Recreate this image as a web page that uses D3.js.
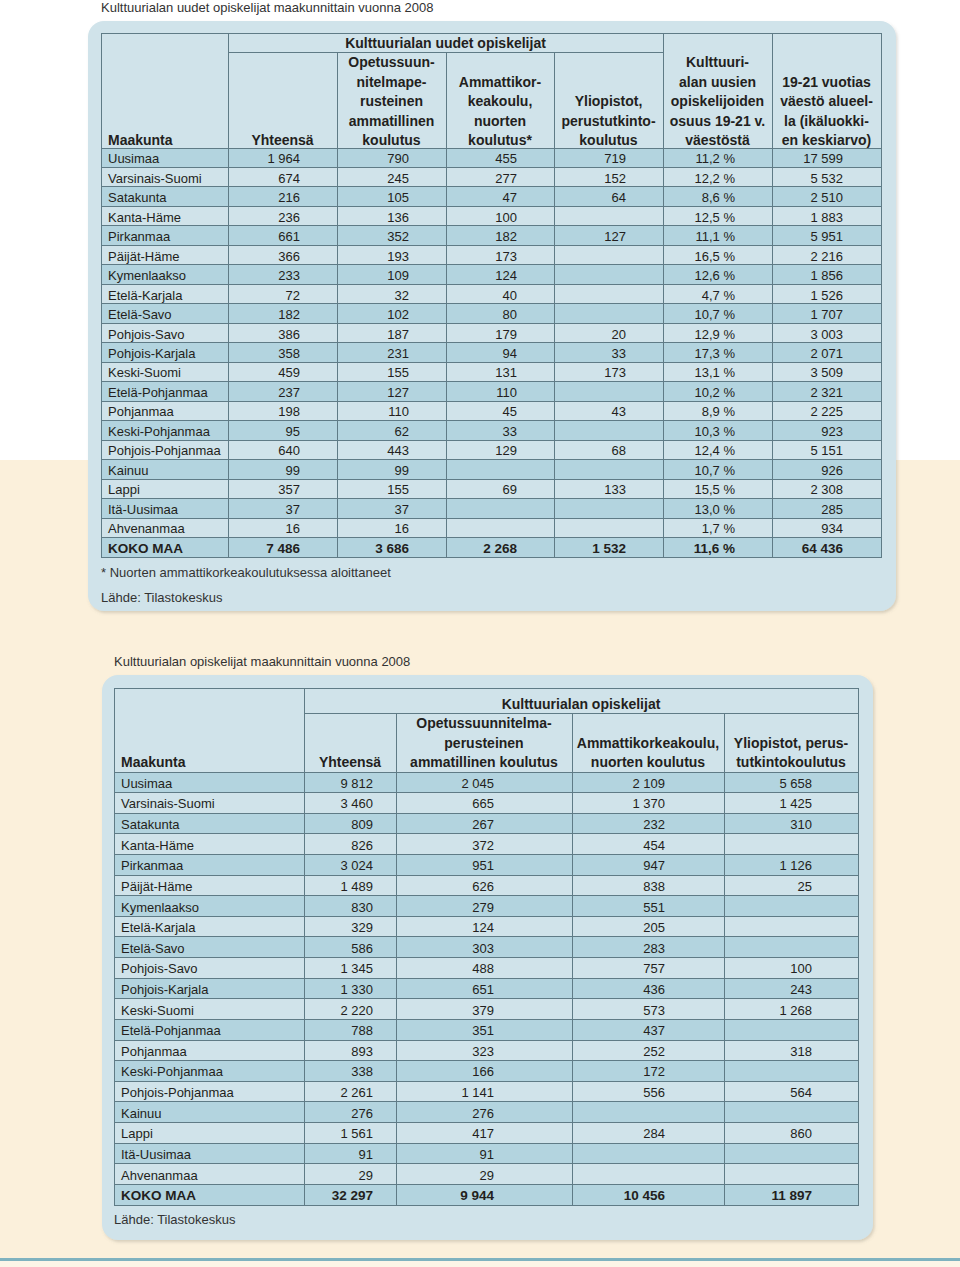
<!DOCTYPE html>
<html>
<head>
<meta charset="utf-8">
<script src="https://cdn.jsdelivr.net/npm/d3@7.9.0/dist/d3.min.js"></script>
<style>
body { margin: 0; background: #fff; }
svg { display: block; font-family: "Liberation Sans", Arial, Helvetica, sans-serif; }
</style>
</head>
<body>
<svg id="chart" width="960" height="1267"></svg>
<script>
// --- data ---
const regions = ['Uusimaa', 'Varsinais-Suomi', 'Satakunta', 'Kanta-Häme', 'Pirkanmaa', 'Päijät-Häme',
  'Kymenlaakso', 'Etelä-Karjala', 'Etelä-Savo', 'Pohjois-Savo', 'Pohjois-Karjala', 'Keski-Suomi',
  'Etelä-Pohjanmaa', 'Pohjanmaa', 'Keski-Pohjanmaa', 'Pohjois-Pohjanmaa', 'Kainuu', 'Lappi',
  'Itä-Uusimaa', 'Ahvenanmaa'];
const totalLabel = 'KOKO MAA';

// table 1: new students 2008
const newTotal = [1964, 674, 216, 236, 661, 366, 233, 72, 182, 386, 358, 459, 237, 198, 95, 640, 99, 357, 37, 16];
const newVocational = [790, 245, 105, 136, 352, 193, 109, 32, 102, 187, 231, 155, 127, 110, 62, 443, 99, 155, 37, 16];
const newPolytechnic = [455, 277, 47, 100, 182, 173, 124, 40, 80, 179, 94, 131, 110, 45, 33, 129, null, 69, null, null];
const newUniversity = [719, 152, 64, null, 127, null, null, null, null, 20, 33, 173, null, 43, null, 68, null, 133, null, null];
const newShare = [11.2, 12.2, 8.6, 12.5, 11.1, 16.5, 12.6, 4.7, 10.7, 12.9, 17.3, 13.1, 10.2, 8.9, 10.3, 12.4, 10.7, 15.5, 13.0, 1.7];
const agePopulation = [17599, 5532, 2510, 1883, 5951, 2216, 1856, 1526, 1707, 3003, 2071, 3509, 2321, 2225, 923, 5151, 926, 2308, 285, 934];
const newSums = [7486, 3686, 2268, 1532, 11.6, 64436];

// table 2: all students 2008
const allTotal = [9812, 3460, 809, 826, 3024, 1489, 830, 329, 586, 1345, 1330, 2220, 788, 893, 338, 2261, 276, 1561, 91, 29];
const allVocational = [2045, 665, 267, 372, 951, 626, 279, 124, 303, 488, 651, 379, 351, 323, 166, 1141, 276, 417, 91, 29];
const allPolytechnic = [2109, 1370, 232, 454, 947, 838, 551, 205, 283, 757, 436, 573, 437, 252, 172, 556, null, 284, null, null];
const allUniversity = [5658, 1425, 310, null, 1126, 25, null, null, null, 100, 243, 1268, null, 318, null, 564, null, 860, null, null];
const allSums = [32297, 9944, 10456, 11897];

// header texts
const title1 = 'Kulttuurialan uudet opiskelijat maakunnittain vuonna 2008';
const span1 = 'Kulttuurialan uudet opiskelijat';
const head1 = [
  ['Maakunta'],
  ['Yhteensä'],
  ['Opetussuun-', 'nitelmape-', 'rusteinen', 'ammatillinen', 'koulutus'],
  ['Ammattikor-', 'keakoulu,', 'nuorten', 'koulutus*'],
  ['Yliopistot,', 'perustutkinto-', 'koulutus'],
  ['Kulttuuri-', 'alan uusien', 'opiskelijoiden', 'osuus 19-21 v.', 'väestöstä'],
  ['19-21 vuotias', 'väestö alueel-', 'la (ikäluokki-', 'en keskiarvo)']
];
const note1 = ['* Nuorten ammattikorkeakoulutuksessa aloittaneet', 'Lähde: Tilastokeskus'];

const title2 = 'Kulttuurialan opiskelijat maakunnittain vuonna 2008';
const span2 = 'Kulttuurialan opiskelijat';
const head2 = [
  ['Maakunta'],
  ['Yhteensä'],
  ['Opetussuunnitelma-', 'perusteinen', 'ammatillinen koulutus'],
  ['Ammattikorkeakoulu,', 'nuorten koulutus'],
  ['Yliopistot, perus-', 'tutkintokoulutus']
];
const note2 = ['Lähde: Tilastokeskus'];

// --- formatting ---
const fi = d3.formatLocale({ decimal: ',', thousands: ' ', grouping: [3], currency: ['', ''] });
const fmtInt = v => v == null ? '' : fi.format(',d')(v);
const fmtPct = v => v == null ? '' : fi.format('.1f')(v) + ' %';

const PANEL = '#d0e3ea', DARK = '#b3d4df', LINE = '#5f7b86', INK = '#231f20';

const svg = d3.select('#chart');
const defs = svg.append('defs');
const f = defs.append('filter').attr('id', 'shadow').attr('x', '-5%').attr('y', '-5%').attr('width', '110%').attr('height', '110%');
f.append('feDropShadow').attr('dx', 1.5).attr('dy', 2).attr('stdDeviation', 1.5)
  .attr('flood-color', '#6a6a5a').attr('flood-opacity', 0.25);

// page background
svg.append('rect').attr('width', 960).attr('height', 460).attr('fill', '#fff');
svg.append('rect').attr('y', 460).attr('width', 960).attr('height', 807).attr('fill', '#fbf0db');
svg.append('rect').attr('y', 1258).attr('width', 960).attr('height', 3).attr('fill', '#7fb2bf');
svg.append('rect').attr('y', 1261).attr('width', 960).attr('height', 6).attr('fill', '#fdf5e7');

function drawTable(o) {
  const g = svg.append('g');
  g.append('text').attr('x', o.titleX).attr('y', o.titleY)
    .attr('font-size', 13).attr('fill', '#333').text(o.title);
  g.append('rect').attr('x', o.panel[0]).attr('y', o.panel[1])
    .attr('width', o.panel[2] - o.panel[0]).attr('height', o.panel[3] - o.panel[1])
    .attr('rx', 16).attr('fill', PANEL).attr('filter', 'url(#shadow)');

  const cols = o.cols;
  const left = cols[0], right = cols[cols.length - 1];
  const y = d3.scaleBand().domain(d3.range(o.rows.length)).range([o.headBottom, o.bottom]);

  // zebra rows
  g.selectAll('rect.row').data(o.rows).join('rect').attr('class', 'row')
    .attr('x', left).attr('y', (d, i) => y(i)).attr('width', right - left).attr('height', y.bandwidth())
    .attr('fill', (d, i) => i % 2 === 0 ? DARK : 'none');

  // grid
  const lines = g.append('g').attr('stroke', LINE).attr('stroke-width', 1).attr('shape-rendering', 'crispEdges');
  lines.append('rect').attr('x', left).attr('y', o.top).attr('width', right - left).attr('height', o.bottom - o.top).attr('fill', 'none');
  lines.append('line').attr('x1', cols[1]).attr('x2', cols[o.spanEnd]).attr('y1', o.spanBottom).attr('y2', o.spanBottom);
  cols.slice(1, -1).forEach((c, i) => {
    const inner = i + 1 > 1 && i + 1 < o.spanEnd;
    lines.append('line').attr('x1', c).attr('x2', c).attr('y1', inner ? o.spanBottom : o.top).attr('y2', o.bottom);
  });
  lines.selectAll('line.h').data(d3.range(o.rows.length)).join('line').attr('class', 'h')
    .attr('x1', left).attr('x2', right).attr('y1', i => y(i)).attr('y2', i => y(i));

  // headers
  const hg = g.append('g').attr('font-weight', 'bold').attr('font-size', 14).attr('fill', INK);
  hg.append('text').attr('x', (cols[1] + cols[o.spanEnd]) / 2).attr('y', o.spanY)
    .attr('text-anchor', 'middle').text(o.span);
  o.head.forEach((linesTxt, c) => {
    const n = linesTxt.length;
    linesTxt.forEach((t, k) => {
      hg.append('text')
        .attr('x', c === 0 ? cols[0] + 7 : (cols[c] + cols[c + 1]) / 2)
        .attr('y', o.headBottom - o.headGap - (n - 1 - k) * o.lineStep)
        .attr('text-anchor', c === 0 ? 'start' : 'middle').text(t);
    });
  });

  // body
  const rg = g.selectAll('g.r').data(o.rows).join('g').attr('class', 'r')
    .attr('transform', (d, i) => `translate(0,${y(i) + y.bandwidth() / 2 + 5.5})`)
    .attr('font-size', (d, i) => i === o.rows.length - 1 ? 13.5 : 13)
    .attr('font-weight', (d, i) => i === o.rows.length - 1 ? 'bold' : null)
    .attr('fill', INK);
  rg.selectAll('text').data(d => d).join('text')
    .attr('x', (d, c) => c === 0 ? cols[0] + 7 : cols[c + 1] - o.pad[c - 1])
    .attr('text-anchor', (d, c) => c === 0 ? 'start' : 'end')
    .text(d => d);

  o.notes.forEach((t, k) => {
    g.append('text').attr('x', o.noteX).attr('y', o.noteY[k]).attr('font-size', 13).attr('fill', '#333').text(t);
  });
}

const rows1 = regions.map((r, i) => [r, fmtInt(newTotal[i]), fmtInt(newVocational[i]), fmtInt(newPolytechnic[i]),
  fmtInt(newUniversity[i]), fmtPct(newShare[i]), fmtInt(agePopulation[i])]);
rows1.push([totalLabel, fmtInt(newSums[0]), fmtInt(newSums[1]), fmtInt(newSums[2]), fmtInt(newSums[3]), fmtPct(newSums[4]), fmtInt(newSums[5])]);

const rows2 = regions.map((r, i) => [r, fmtInt(allTotal[i]), fmtInt(allVocational[i]), fmtInt(allPolytechnic[i]), fmtInt(allUniversity[i])]);
rows2.push([totalLabel].concat(allSums.map(fmtInt)));

drawTable({
  title: title1, titleX: 101, titleY: 12,
  panel: [88, 21, 896, 611],
  cols: [101, 228, 337, 446, 554, 663, 772, 881],
  top: 33, spanBottom: 52, spanY: 48, spanEnd: 5, headBottom: 148, headGap: 3, bottom: 557, lineStep: 19.5,
  span: span1, head: head1, rows: rows1,
  pad: [37, 37, 37, 37, 37, 38],
  notes: note1, noteX: 101, noteY: [577, 602]
});

drawTable({
  title: title2, titleX: 114, titleY: 666,
  panel: [102, 675, 873, 1240],
  cols: [114, 304, 396, 572, 724, 858],
  top: 688, spanBottom: 713, spanY: 709, spanEnd: 5, headBottom: 772, headGap: 5, bottom: 1205, lineStep: 19.5,
  span: span2, head: head2, rows: rows2,
  pad: [23, 78, 59, 46],
  notes: note2, noteX: 114, noteY: [1224]
});
</script>
</body>
</html>
